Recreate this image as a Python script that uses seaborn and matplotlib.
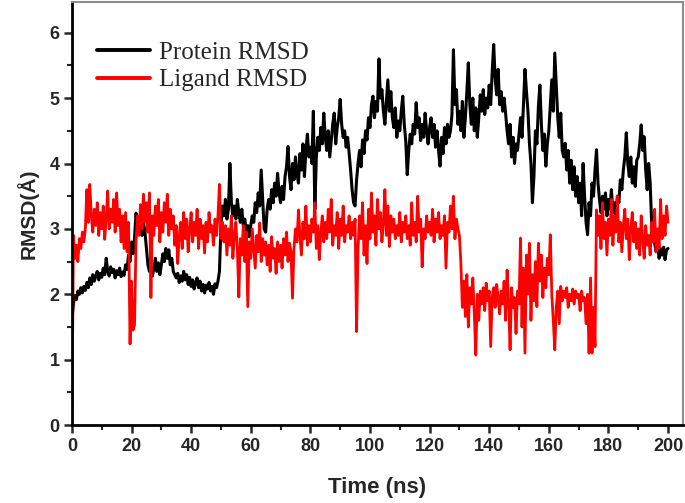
import numpy as np
import pandas as pd
import matplotlib
matplotlib.use("Agg")
import matplotlib.pyplot as plt
import seaborn as sns
from matplotlib.ticker import MultipleLocator

# RMSD values, one every 0.5 ns from 0 to 200 ns
protein_rmsd = [
    1.62, 1.85, 1.98, 1.92, 2.05, 2.00, 2.10, 2.02, 2.12, 2.06,
    2.18, 2.10, 2.25, 2.15, 2.30, 2.20, 2.28, 2.35, 2.22, 2.32,
    2.26, 2.40, 2.30, 2.55, 2.35, 2.28, 2.42, 2.33, 2.38, 2.25,
    2.36, 2.30, 2.40, 2.27, 2.34, 2.29, 2.45, 2.38, 2.60, 2.50,
    2.80, 2.62, 2.85, 3.24, 3.05, 2.95, 3.15, 2.90, 3.10, 2.95,
    2.70, 2.45, 2.35, 2.42, 2.28, 2.40, 2.55, 2.35, 2.48, 2.30,
    2.45, 2.62, 2.50, 2.70, 2.55, 2.68, 2.45, 2.55, 2.35, 2.30,
    2.25, 2.32, 2.18, 2.28, 2.20, 2.35, 2.22, 2.30, 2.15, 2.26,
    2.12, 2.22, 2.08, 2.18, 2.25, 2.10, 2.20, 2.05, 2.15, 2.02,
    2.14, 2.08, 2.18, 2.05, 2.12, 2.00, 2.16, 2.10, 2.20, 2.35,
    3.05, 3.35, 3.20, 3.45, 3.15, 3.30, 4.00, 3.40, 3.20, 3.35,
    3.15, 3.45, 3.25, 3.10, 3.30, 3.05, 3.15, 2.95, 3.05, 2.88,
    3.05, 3.20, 3.10, 3.40, 3.25, 3.55, 3.35, 3.90, 3.45, 3.00,
    2.95, 3.30, 3.45, 3.30, 3.60, 3.40, 3.70, 3.50, 3.85, 3.55,
    3.40, 3.65, 3.45, 3.80, 3.95, 4.26, 3.80, 3.60, 4.00, 3.75,
    4.10, 3.85, 3.70, 4.15, 3.90, 4.30, 3.80, 4.20, 4.45, 4.10,
    4.25, 4.00, 4.80, 3.30, 4.10, 4.40, 4.20, 4.55, 4.30, 4.77,
    4.40, 4.20, 4.50, 4.10, 4.35, 4.60, 4.77, 4.30, 4.55, 4.70,
    4.98, 4.60, 4.40, 4.50, 4.25, 4.40, 4.16, 3.90, 3.60, 3.40,
    3.35, 3.75, 4.00, 4.20, 3.95, 4.36, 4.15, 4.50, 4.36, 4.70,
    4.55, 4.90, 5.03, 4.70, 4.95, 4.80, 5.60, 5.00, 5.13, 4.80,
    4.60, 4.95, 5.28, 4.80, 5.10, 4.70, 4.55, 4.85, 4.40, 4.65,
    4.50, 4.80, 5.03, 4.60, 4.35, 3.83, 4.20, 4.45, 4.30, 4.60,
    4.45, 4.93, 4.55, 4.70, 4.35, 4.60, 4.40, 4.77, 4.50, 4.30,
    4.55, 4.70, 4.40, 4.60, 4.25, 4.50, 4.20, 3.96, 4.40, 4.15,
    4.55, 4.30, 4.60, 4.40, 4.50, 4.75, 5.74, 4.90, 5.13, 4.60,
    4.80, 4.50, 4.95, 4.40, 4.70, 5.10, 5.54, 4.90, 4.60, 5.00,
    4.50, 4.85, 4.40, 4.70, 5.05, 4.80, 5.13, 4.75, 5.00, 4.85,
    5.20, 4.90, 5.40, 5.82, 5.30, 5.05, 5.44, 4.90, 5.10, 4.80,
    5.00, 4.77, 4.50, 4.30, 4.60, 4.10, 4.40, 4.00, 4.30, 4.20,
    4.45, 4.70, 4.40, 4.90, 5.44, 5.10, 4.80, 4.30, 4.00, 3.40,
    3.80, 4.50, 4.30, 4.87, 5.20, 4.60, 4.20, 4.45, 3.96, 4.30,
    4.50, 4.90, 5.28, 4.80, 5.69, 5.20, 4.70, 4.40, 4.77, 4.20,
    4.10, 4.31, 3.90, 4.20, 3.70, 4.05, 3.60, 3.95, 3.50, 3.80,
    3.40, 3.70, 3.20, 4.00, 3.50, 3.10, 2.91, 3.40, 3.20, 3.70,
    3.50, 3.90, 4.21, 3.70, 3.45, 3.25, 3.50, 3.30, 3.55, 3.20,
    3.45, 3.30, 3.60, 3.25, 3.40, 3.19, 3.50, 3.40, 3.75, 3.60,
    3.90, 4.10, 4.47, 4.00, 3.80, 4.10, 3.70, 3.95, 3.65, 4.05,
    4.10, 4.30, 4.59, 4.20, 4.41, 3.90, 3.60, 4.00, 3.70, 3.09,
    2.85, 2.78, 2.65, 2.75, 2.55, 2.70, 2.60, 2.72, 2.53, 2.68,
    2.70,
]

ligand_rmsd = [
    0.00, 2.90, 2.55, 2.75, 2.50, 2.85, 2.70, 2.95, 2.80, 3.00,
    3.60, 3.10, 3.68, 3.20, 2.95, 3.30, 3.05, 3.40, 2.90, 3.25,
    3.00, 3.35, 2.84, 3.15, 3.58, 3.00, 3.30, 3.10, 3.45, 2.95,
    3.55, 3.05, 3.30, 2.80, 3.20, 2.70, 3.25, 2.65, 3.10, 1.24,
    2.20, 1.45, 1.53, 2.80, 3.20, 2.90, 3.37, 3.00, 3.53, 3.10,
    3.40, 2.95, 3.55, 1.95, 3.20, 2.90, 3.35, 3.05, 3.45, 2.80,
    3.25, 2.95, 3.40, 3.10, 3.53, 2.90, 3.30, 3.00, 3.20, 2.75,
    3.05, 2.47, 2.90, 3.10, 2.70, 3.25, 2.85, 3.15, 2.65, 3.00,
    3.25, 2.80, 3.10, 2.90, 3.30, 2.70, 3.15, 2.85, 3.05, 2.63,
    3.10, 2.80, 3.25, 2.95, 3.05, 2.75, 3.15, 2.90, 3.20, 3.68,
    2.85, 3.10, 2.80, 3.05, 2.60, 3.00, 2.75, 3.20, 2.55, 2.90,
    3.10, 2.70, 1.96, 2.85, 2.60, 3.05, 2.50, 2.95, 1.81, 2.80,
    2.55, 3.00, 2.70, 2.40, 2.90, 2.65, 3.09, 2.50, 2.85, 2.60,
    2.80, 2.45, 2.75, 2.35, 2.88, 2.55, 2.70, 2.32, 2.80, 2.50,
    2.75, 2.40, 2.85, 2.60, 2.95, 2.50, 2.78, 2.65, 1.94, 2.70,
    3.00, 2.80, 3.29, 2.90, 2.60, 3.10, 2.85, 3.35, 2.75, 3.05,
    2.80, 3.15, 2.95, 3.40, 2.70, 3.05, 2.53, 2.95, 3.20, 2.80,
    3.10, 2.85, 3.30, 2.95, 3.45, 2.75, 3.05, 2.90, 3.25, 2.70,
    3.15, 2.90, 3.35, 2.80, 3.05, 2.95, 3.20, 2.85, 3.10, 2.90,
    3.15, 1.43, 2.70, 3.20, 2.85, 3.40, 2.60, 3.05, 2.47, 3.30,
    2.85, 3.55, 2.95, 3.20, 2.75, 3.45, 3.00, 3.25, 2.80, 3.10,
    3.60, 2.90, 3.35, 2.73, 3.20, 2.95, 3.15, 2.85, 3.05, 2.90,
    3.25, 2.80, 3.10, 2.95, 3.20, 2.85, 3.05, 2.75, 3.40, 2.90,
    3.10, 2.80, 3.50, 2.95, 3.15, 2.42, 3.00, 2.85, 3.20, 2.95,
    3.10, 2.90, 3.30, 2.80, 3.15, 2.95, 3.25, 2.85, 3.05, 2.90,
    3.20, 2.40, 3.10, 2.95, 3.35, 3.00, 3.50, 2.85, 3.15, 3.00,
    2.90, 2.47, 1.80, 2.20, 1.66, 2.30, 1.50, 2.10, 1.85, 2.25,
    1.70, 1.07, 2.00, 1.60, 2.05, 1.85, 2.10, 1.75, 2.17, 1.90,
    2.05, 1.20, 1.95, 2.10, 1.80, 2.15, 1.95, 1.70, 2.05, 1.85,
    2.20, 1.60, 2.37, 1.90, 1.15, 2.10, 1.80, 1.95, 1.40, 2.05,
    1.85, 2.86, 1.50, 2.40, 1.10, 2.60, 2.00, 2.78, 1.60, 2.30,
    1.90, 2.50, 1.81, 2.78, 2.20, 2.60, 1.95, 2.40, 2.10, 2.55,
    2.30, 2.91, 2.00, 1.60, 1.15, 1.80, 2.05, 1.55, 2.12, 1.90,
    2.05, 1.95, 2.10, 1.80, 2.00, 1.90, 2.08, 1.85, 2.05, 1.95,
    2.00, 1.75, 2.05, 1.90, 1.95, 1.55, 2.00, 1.10, 2.25, 1.10,
    1.80, 1.20, 3.29, 2.90, 3.20, 2.70, 3.40, 2.85, 3.10, 2.60,
    3.15, 2.90, 3.45, 2.75, 3.20, 2.95, 3.50, 2.80, 3.10, 2.65,
    3.05, 3.30, 2.85, 3.15, 2.53, 3.00, 3.25, 2.80, 3.10, 2.70,
    3.00, 2.60, 3.20, 2.85, 2.55, 3.05, 2.75, 2.90, 2.60, 3.10,
    2.80, 3.30, 2.65, 3.00, 2.70, 3.45, 2.85, 3.20, 2.90, 3.35,
    3.10,
]

time_ns = np.linspace(0, 200, len(protein_rmsd))
df = pd.DataFrame({"time": time_ns, "protein": protein_rmsd, "ligand": ligand_rmsd})

sns.set_style("ticks")
plt.rcParams["font.family"] = ["Liberation Sans", "DejaVu Sans"]

fig = plt.figure(figsize=(6.85, 5.03), dpi=100)
ax = fig.add_axes([0.105, 0.155, 0.892, 0.841])

sns.lineplot(data=df, x="time", y="protein", color="black", lw=2.2, ax=ax, label="Protein RMSD")
sns.lineplot(data=df, x="time", y="ligand", color="#ff0000", lw=2.0, ax=ax, label="Ligand RMSD")

ax.set_xlim(0, 205)
ax.set_ylim(0, 6.47)
ax.xaxis.set_major_locator(MultipleLocator(20))
ax.xaxis.set_minor_locator(MultipleLocator(10))
ax.yaxis.set_major_locator(MultipleLocator(1))
ax.yaxis.set_minor_locator(MultipleLocator(0.5))
ax.tick_params(which="major", direction="out", length=6, width=1.8, labelsize=13, pad=3)
ax.tick_params(which="minor", direction="out", length=3.5, width=1.5)
for lab in ax.get_xticklabels() + ax.get_yticklabels():
    lab.set_fontweight("bold")

for side in ["left", "bottom"]:
    ax.spines[side].set_linewidth(2)
    ax.spines[side].set_color("black")
for side in ["top", "right"]:
    ax.spines[side].set_visible(True)
    ax.spines[side].set_linewidth(1.5)
    ax.spines[side].set_color("#8c8c8c")

ax.set_xlabel("Time (ns)", fontsize=16, fontweight="bold", labelpad=16)
ax.set_ylabel("RMSD(Å)", fontsize=15, fontweight="bold", labelpad=8)

leg = ax.legend(loc="upper left", bbox_to_anchor=(0.005, 0.96), frameon=False,
                prop={"family": "Liberation Serif", "size": 18},
                handlelength=2.1, handletextpad=0.35, labelspacing=0.2)
for h in leg.get_lines():
    h.set_linewidth(2.8)

fig.savefig("out.png", dpi=100)
